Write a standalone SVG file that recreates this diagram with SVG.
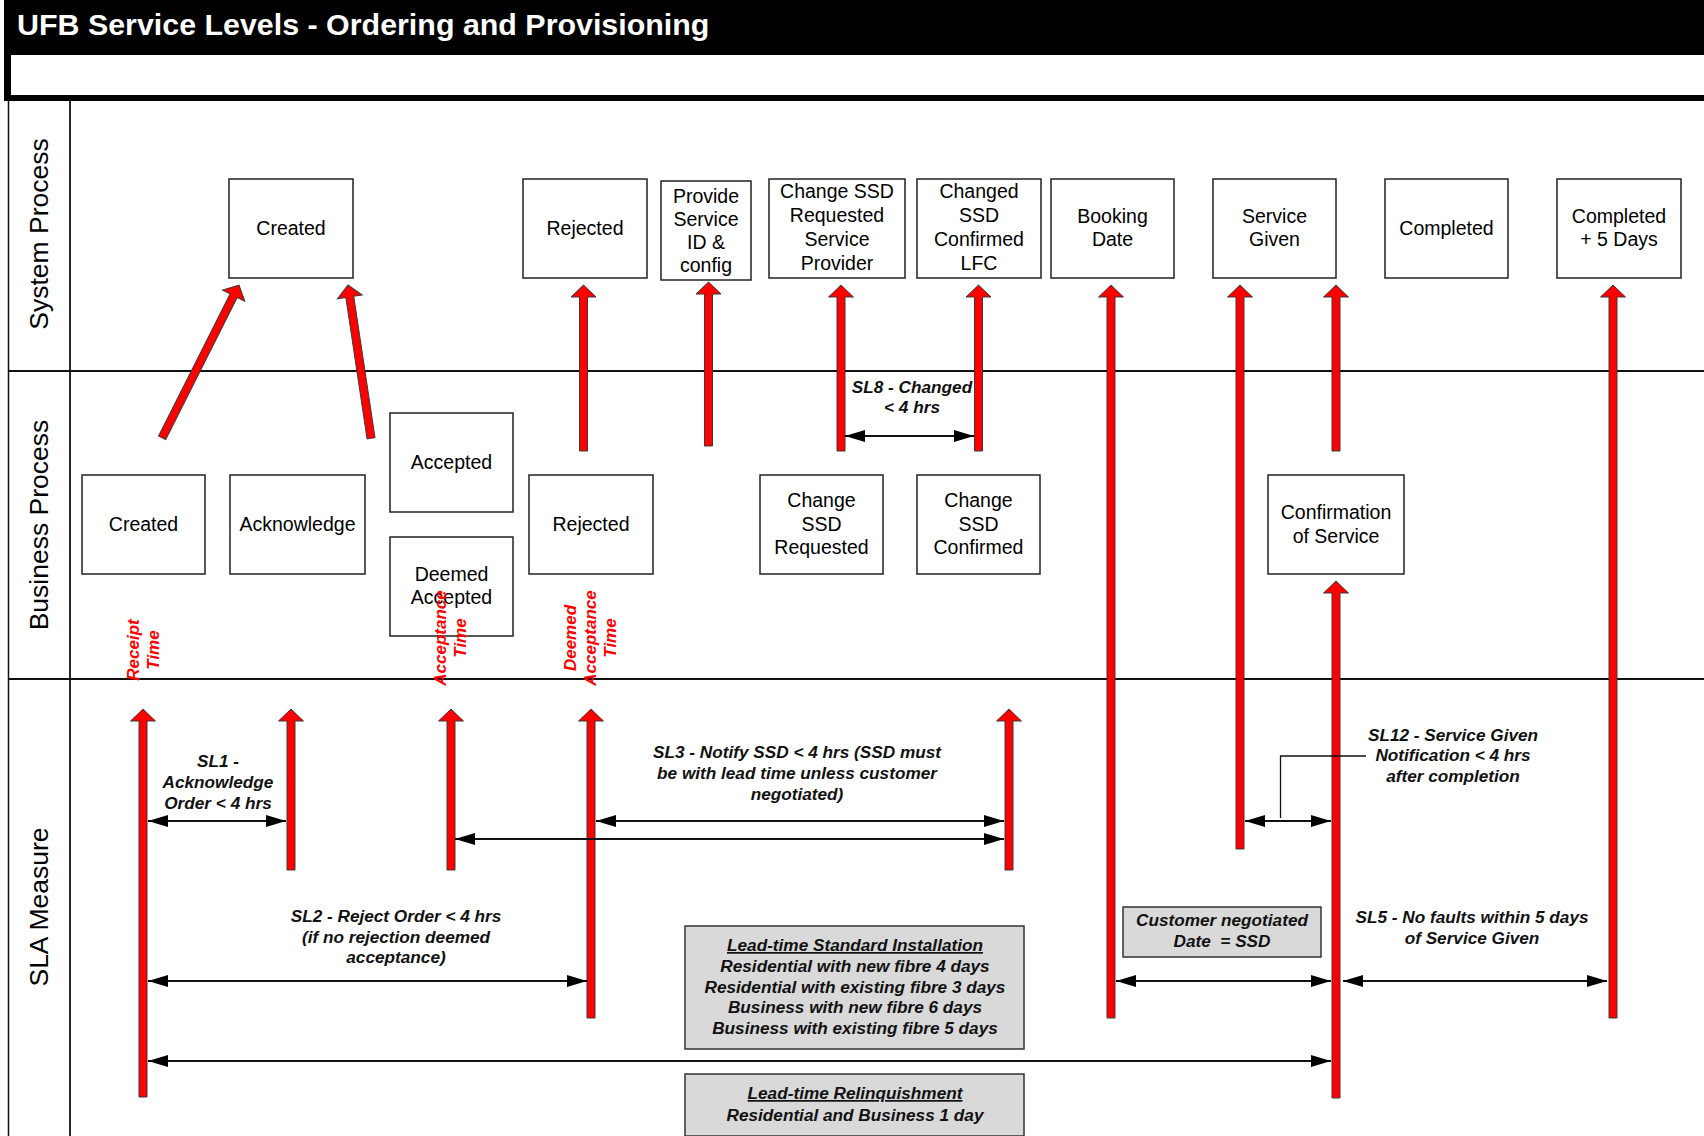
<svg xmlns="http://www.w3.org/2000/svg" width="1704" height="1136" viewBox="0 0 1704 1136">
<defs>
<style>
.box{fill:#fff;stroke:#222;stroke-width:1.5}
.gbox{fill:#d9d9d9;stroke:#333;stroke-width:1.5}
.bt{font-family:"Liberation Sans",Arial,sans-serif;font-size:19.5px;fill:#000;text-anchor:middle}
.lane{font-family:"Liberation Sans",Arial,sans-serif;font-size:26.5px;fill:#000;text-anchor:middle}
.sl{font-family:"Liberation Sans",Arial,sans-serif;font-size:17.2px;font-weight:bold;font-style:italic;fill:#111;text-anchor:middle}
.rt{font-family:"Liberation Sans",Arial,sans-serif;font-size:17px;font-weight:bold;font-style:italic;fill:#ff0000;text-anchor:middle}
.red{fill:#ff0000;stroke:#3a3a3a;stroke-width:1}
.ln{stroke:#111;stroke-width:1.8;fill:none}
.frame{stroke:#111;fill:none}
</style>
<marker id="ah" viewBox="0 0 20 12" refX="20" refY="6" markerWidth="20" markerHeight="12" markerUnits="userSpaceOnUse" orient="auto-start-reverse">
<path d="M0,0 L20,6 L0,12 Z" fill="#000"/>
</marker>
</defs>

<g id="header">
<rect x="4" y="0" width="1700" height="101" fill="#000"/>
<rect x="11" y="55" width="1693" height="40" fill="#fff"/>
<text x="17" y="35" font-family="Liberation Sans,Arial,sans-serif" font-size="30.4" font-weight="bold" fill="#fff">UFB Service Levels - Ordering and Provisioning</text>
</g>

<g id="lanes">
<line class="frame" x1="8.5" y1="99" x2="8.5" y2="1136" stroke-width="1.5"/>
<line class="frame" x1="70" y1="99" x2="70" y2="1136" stroke-width="1.8"/>
<line class="frame" x1="8" y1="371" x2="1704" y2="371" stroke-width="2.2"/>
<line class="frame" x1="8" y1="679" x2="1704" y2="679" stroke-width="2.2"/>
<text class="lane" transform="translate(47.5,234) rotate(-90)">System Process</text>
<text class="lane" transform="translate(47.5,525) rotate(-90)">Business Process</text>
<text class="lane" transform="translate(47.5,907) rotate(-90)">SLA Measure</text>
</g>

<g id="sys-created"><rect class="box" x="229" y="179" width="124" height="99"/><text class="bt" x="291" y="235">Created</text></g>
<g id="sys-rejected"><rect class="box" x="523" y="179" width="124" height="99"/><text class="bt" x="585" y="235">Rejected</text></g>
<g id="sys-provide"><rect class="box" x="661" y="181" width="90" height="99"/><text class="bt" x="706"><tspan x="706" y="203">Provide</tspan><tspan x="706" y="226">Service</tspan><tspan x="706" y="249">ID &amp;</tspan><tspan x="706" y="272">config</tspan></text></g>
<g id="sys-change-req"><rect class="box" x="769" y="179" width="136" height="99"/><text class="bt"><tspan x="837" y="198">Change SSD</tspan><tspan x="837" y="222">Requested</tspan><tspan x="837" y="246">Service</tspan><tspan x="837" y="270">Provider</tspan></text></g>
<g id="sys-changed-lfc"><rect class="box" x="917" y="179" width="124" height="99"/><text class="bt"><tspan x="979" y="198">Changed</tspan><tspan x="979" y="222">SSD</tspan><tspan x="979" y="246">Confirmed</tspan><tspan x="979" y="270">LFC</tspan></text></g>
<g id="sys-booking"><rect class="box" x="1051" y="179" width="123" height="99"/><text class="bt"><tspan x="1112.5" y="223">Booking</tspan><tspan x="1112.5" y="246">Date</tspan></text></g>
<g id="sys-service-given"><rect class="box" x="1213" y="179" width="123" height="99"/><text class="bt"><tspan x="1274.5" y="223">Service</tspan><tspan x="1274.5" y="246">Given</tspan></text></g>
<g id="sys-completed"><rect class="box" x="1385" y="179" width="123" height="99"/><text class="bt" x="1446.5" y="235">Completed</text></g>
<g id="sys-completed5"><rect class="box" x="1557" y="179" width="124" height="99"/><text class="bt"><tspan x="1619" y="223">Completed</tspan><tspan x="1619" y="246">+ 5 Days</tspan></text></g>

<g id="bp-created"><rect class="box" x="82" y="475" width="123" height="99"/><text class="bt" x="143.5" y="531">Created</text></g>
<g id="bp-ack"><rect class="box" x="230" y="475" width="135" height="99"/><text class="bt" x="297.5" y="531">Acknowledge</text></g>
<g id="bp-accepted"><rect class="box" x="390" y="413" width="123" height="99"/><text class="bt" x="451.5" y="469">Accepted</text></g>
<g id="bp-deemed"><rect class="box" x="390" y="537" width="123" height="99"/><text class="bt"><tspan x="451.5" y="581">Deemed</tspan><tspan x="451.5" y="604">Accepted</tspan></text></g>
<g id="bp-rejected"><rect class="box" x="529" y="475" width="124" height="99"/><text class="bt" x="591" y="531">Rejected</text></g>
<g id="bp-change-req"><rect class="box" x="760" y="475" width="123" height="99"/><text class="bt"><tspan x="821.5" y="507">Change</tspan><tspan x="821.5" y="531">SSD</tspan><tspan x="821.5" y="554">Requested</tspan></text></g>
<g id="bp-change-conf"><rect class="box" x="917" y="475" width="123" height="99"/><text class="bt"><tspan x="978.5" y="507">Change</tspan><tspan x="978.5" y="531">SSD</tspan><tspan x="978.5" y="554">Confirmed</tspan></text></g>
<g id="bp-confirmation"><rect class="box" x="1268" y="475" width="136" height="99"/><text class="bt"><tspan x="1336" y="519">Confirmation</tspan><tspan x="1336" y="543">of Service</tspan></text></g>

<g id="lead-std"><rect class="gbox" x="685" y="926" width="339" height="123"/>
<text class="sl"><tspan x="855" y="951" text-decoration="underline">Lead-time Standard Installation</tspan><tspan x="855" y="972">Residential with new fibre 4 days</tspan><tspan x="855" y="993">Residential with existing fibre 3 days</tspan><tspan x="855" y="1013">Business with new fibre 6 days</tspan><tspan x="855" y="1034">Business with existing fibre 5 days</tspan></text></g>
<g id="lead-rel"><rect class="gbox" x="685" y="1074" width="339" height="62"/>
<text class="sl"><tspan x="855" y="1099" text-decoration="underline">Lead-time Relinquishment</tspan><tspan x="855" y="1121">Residential and Business 1 day</tspan></text></g>
<g id="cust-neg"><rect class="gbox" x="1123" y="907" width="198" height="50"/>
<text class="sl" xml:space="preserve"><tspan x="1222" y="926">Customer negotiated</tspan><tspan x="1222" y="947">Date  = SSD</tspan></text></g>

<g id="connectors">
<path class="red" d="M579.5,451 V297 H571 L583.5,285 L596,297 H587.5 V451 Z"/>
<path class="red" d="M704.5,446 V294 H696 L708.5,282 L721,294 H712.5 V446 Z"/>
<path class="red" d="M837,451 V297 H828.5 L841,285 L853.5,297 H845 V451 Z"/>
<path class="red" d="M974.5,451 V297 H966 L978.5,285 L991,297 H982.5 V451 Z"/>
<path class="red" d="M1107,1018 V297 H1098.5 L1111,285 L1123.5,297 H1115 V1018 Z"/>
<path class="red" d="M1236,849 V297 H1227.5 L1240,285 L1252.5,297 H1244 V849 Z"/>
<path class="red" d="M1332,451 V297 H1323.5 L1336,285 L1348.5,297 H1340 V451 Z"/>
<path class="red" d="M1609,1018 V297 H1600.5 L1613,285 L1625.5,297 H1617 V1018 Z"/>
<path class="red" d="M1332,1098 V593 H1323.5 L1336,581 L1348.5,593 H1340 V1098 Z"/>
<path class="red" d="M139,1097 V721 H130.5 L143,709 L155.5,721 H147 V1097 Z"/>
<path class="red" d="M287,870 V721 H278.5 L291,709 L303.5,721 H295 V870 Z"/>
<path class="red" d="M447,870 V721 H438.5 L451,709 L463.5,721 H455 V870 Z"/>
<path class="red" d="M587,1018 V721 H578.5 L591,709 L603.5,721 H595 V1018 Z"/>
<path class="red" d="M1005,870 V721 H996.5 L1009,709 L1021.5,721 H1013 V870 Z"/>
<path class="red" transform="translate(239,285) rotate(26.7)" d="M-4,171 V12 H-12.5 L0,0 L12.5,12 H4 V171 Z"/>
<path class="red" transform="translate(348,285) rotate(-8.55)" d="M-4,155 V12 H-12.5 L0,0 L12.5,12 H4 V155 Z"/>

<line class="ln" x1="845" y1="436" x2="974" y2="436" marker-start="url(#ah)" marker-end="url(#ah)"/>
<line class="ln" x1="148" y1="821" x2="286" y2="821" marker-start="url(#ah)" marker-end="url(#ah)"/>
<line class="ln" x1="596" y1="821" x2="1004" y2="821" marker-start="url(#ah)" marker-end="url(#ah)"/>
<line class="ln" x1="455" y1="839" x2="1004" y2="839" marker-start="url(#ah)" marker-end="url(#ah)"/>
<line class="ln" x1="1245" y1="821" x2="1331" y2="821" marker-start="url(#ah)" marker-end="url(#ah)"/>
<line class="ln" x1="148" y1="981" x2="587" y2="981" marker-start="url(#ah)" marker-end="url(#ah)"/>
<line class="ln" x1="1116" y1="981" x2="1331" y2="981" marker-start="url(#ah)" marker-end="url(#ah)"/>
<line class="ln" x1="1343" y1="981" x2="1607" y2="981" marker-start="url(#ah)" marker-end="url(#ah)"/>
<line class="ln" x1="148" y1="1061" x2="1331" y2="1061" marker-start="url(#ah)" marker-end="url(#ah)"/>
<polyline points="1280.5,818 1280.5,756 1366,756" fill="none" stroke="#111" stroke-width="1.3"/>
</g>

<g id="labels">
<text class="sl"><tspan x="912" y="393">SL8 - Changed</tspan><tspan x="912" y="413">&lt; 4 hrs</tspan></text>
<text class="sl"><tspan x="218" y="767">SL1 -</tspan><tspan x="218" y="788">Acknowledge</tspan><tspan x="218" y="809">Order &lt; 4 hrs</tspan></text>
<text class="sl"><tspan x="797" y="758">SL3 - Notify SSD &lt; 4 hrs (SSD must</tspan><tspan x="797" y="779">be with lead time unless customer</tspan><tspan x="797" y="800">negotiated)</tspan></text>
<text class="sl"><tspan x="396" y="922">SL2 - Reject Order &lt; 4 hrs</tspan><tspan x="396" y="943">(if no rejection deemed</tspan><tspan x="396" y="963">acceptance)</tspan></text>
<text class="sl"><tspan x="1453" y="741">SL12 - Service Given</tspan><tspan x="1453" y="761">Notification &lt; 4 hrs</tspan><tspan x="1453" y="782">after completion</tspan></text>
<text class="sl"><tspan x="1472" y="923">SL5 - No faults within 5 days</tspan><tspan x="1472" y="944">of Service Given</tspan></text>
<text class="rt" transform="translate(139,650) rotate(-90)"><tspan x="0" y="0">Receipt</tspan><tspan x="0" y="20">Time</tspan></text>
<text class="rt" transform="translate(446,638) rotate(-90)"><tspan x="0" y="0">Acceptance</tspan><tspan x="0" y="20">Time</tspan></text>
<text class="rt" transform="translate(576,638) rotate(-90)"><tspan x="0" y="0">Deemed</tspan><tspan x="0" y="20">Acceptance</tspan><tspan x="0" y="40">Time</tspan></text>
</g>
</svg>
